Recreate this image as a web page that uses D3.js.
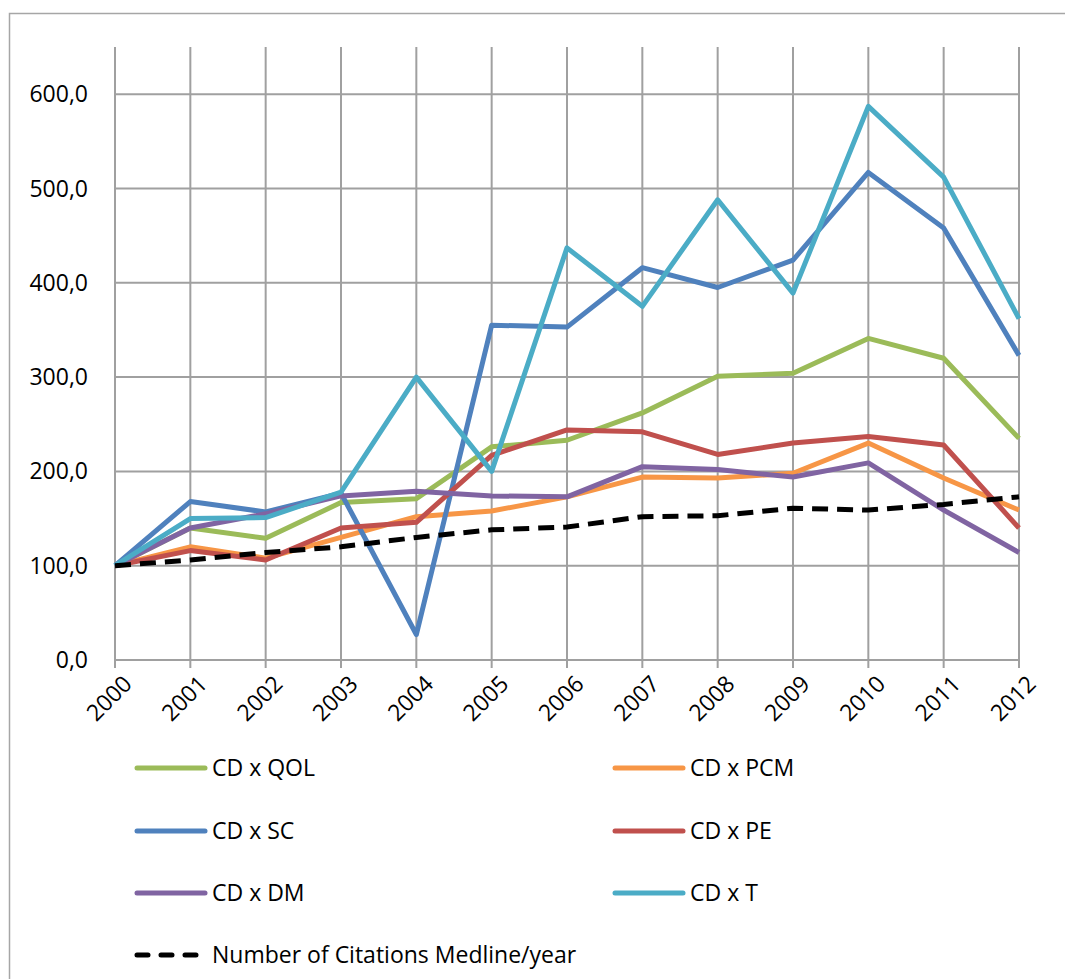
<!DOCTYPE html>
<html>
<head>
<meta charset="utf-8">
<script src="https://cdn.jsdelivr.net/npm/d3@7"></script>
<style>
  html, body { margin: 0; padding: 0; background: #fff; }
  svg { display: block; font-family: "Open Sans", "Noto Sans", sans-serif; }
</style>
</head>
<body>
<div id="chart"></div>
<script>
const years = [2000, 2001, 2002, 2003, 2004, 2005, 2006, 2007, 2008, 2009, 2010, 2011, 2012]
const yTicks = [0, 100, 200, 300, 400, 500, 600]

const qol = [100, 140, 129, 167, 171, 226, 233, 262, 301, 304, 341, 320, 235]
const pcm = [100, 120, 108, 130, 152, 158, 173, 194, 193, 198, 230, 193, 159]
const sc = [100, 168, 157, 177, 27, 355, 353, 416, 395, 424, 517, 458, 323]
const pe = [100, 116, 106, 140, 146, 217, 244, 242, 218, 230, 237, 228, 140]
const dm = [100, 140, 155, 174, 179, 174, 173, 205, 202, 194, 209, 159, 114]
const tt = [100, 150, 151, 178, 300, 200, 437, 375, 488, 389, 587, 512, 362]
const medline = [100, 106, 114, 120, 130, 138, 141, 152, 153, 161, 159, 165, 173]

const series = [
  { name: "CD x QOL", values: qol, color: "#9bbb59" },
  { name: "CD x PCM", values: pcm, color: "#f79646" },
  { name: "CD x SC", values: sc, color: "#4f81bd" },
  { name: "CD x PE", values: pe, color: "#c0504d" },
  { name: "CD x DM", values: dm, color: "#8064a2" },
  { name: "CD x T", values: tt, color: "#4bacc6" },
  { name: "Number of Citations Medline/year", values: medline, color: "#000", dashed: true }
]

const width = 1065, height = 979
const margin = { top: 47, right: 46, bottom: 319, left: 115 }
const fontSize = 23

const svg = d3.select("#chart").append("svg")
  .attr("width", width).attr("height", height)

// chart frame
svg.append("path")
  .attr("d", `M9.5,${height} V13.5 H${width}`)
  .attr("fill", "none").attr("stroke", "#a6a6a6").attr("stroke-width", 1.5)

const x = d3.scalePoint()
  .domain(years)
  .range([margin.left, width - margin.right])

const y = d3.scaleLinear()
  .domain([0, 650])
  .range([height - margin.bottom, margin.top])

const grid = svg.append("g").attr("stroke", "#a0a0a0").attr("stroke-width", 2)
grid.selectAll(".h").data(yTicks).enter().append("line")
  .attr("x1", margin.left).attr("x2", width - margin.right)
  .attr("y1", d => y(d)).attr("y2", d => y(d))
grid.selectAll(".v").data(years).enter().append("line")
  .attr("x1", d => x(d)).attr("x2", d => x(d))
  .attr("y1", margin.top).attr("y2", y(0) + 8)

const fmt = d => d3.format(".1f")(d).replace(".", ",")

svg.append("g").selectAll("text").data(yTicks).enter().append("text")
  .attr("x", 88).attr("y", d => y(d)).attr("dy", "0.35em")
  .attr("text-anchor", "end").attr("font-size", fontSize).attr("fill", "#000")
  .text(fmt)

svg.append("g").selectAll("text").data(years).enter().append("text")
  .attr("transform", d => `translate(${x(d) + 7},${y(0) + 14}) rotate(-45)`)
  .attr("text-anchor", "end").attr("dy", "0.7em")
  .attr("font-size", fontSize).attr("fill", "#000")
  .text(d => d)

const line = d3.line()
  .x((d, i) => x(years[i]))
  .y(d => y(d))

svg.append("g").selectAll("path").data(series).enter().append("path")
  .attr("d", d => line(d.values))
  .attr("fill", "none")
  .attr("stroke", d => d.color)
  .attr("stroke-width", 5)
  .attr("stroke-linejoin", "round")
  .attr("stroke-dasharray", d => d.dashed ? "16,9" : null)

// legend
const legendPos = [
  [135, 768], [613, 768],
  [135, 831], [613, 831],
  [135, 893], [613, 893],
  [135, 955]
]
const legend = svg.append("g").selectAll("g").data(series).enter().append("g")
  .attr("transform", (d, i) => `translate(${legendPos[i][0]},${legendPos[i][1]})`)
legend.append("line")
  .attr("x1", 2).attr("x2", 70).attr("y1", 0).attr("y2", 0)
  .attr("stroke", d => d.color).attr("stroke-width", 5)
  .attr("stroke-linecap", "round")
  .attr("stroke-dasharray", d => d.dashed ? "11,13" : null)
legend.append("text")
  .attr("x", 77).attr("y", 0).attr("dy", "0.35em")
  .attr("font-size", fontSize).attr("fill", "#000")
  .text(d => d.name)
</script>
</body>
</html>
